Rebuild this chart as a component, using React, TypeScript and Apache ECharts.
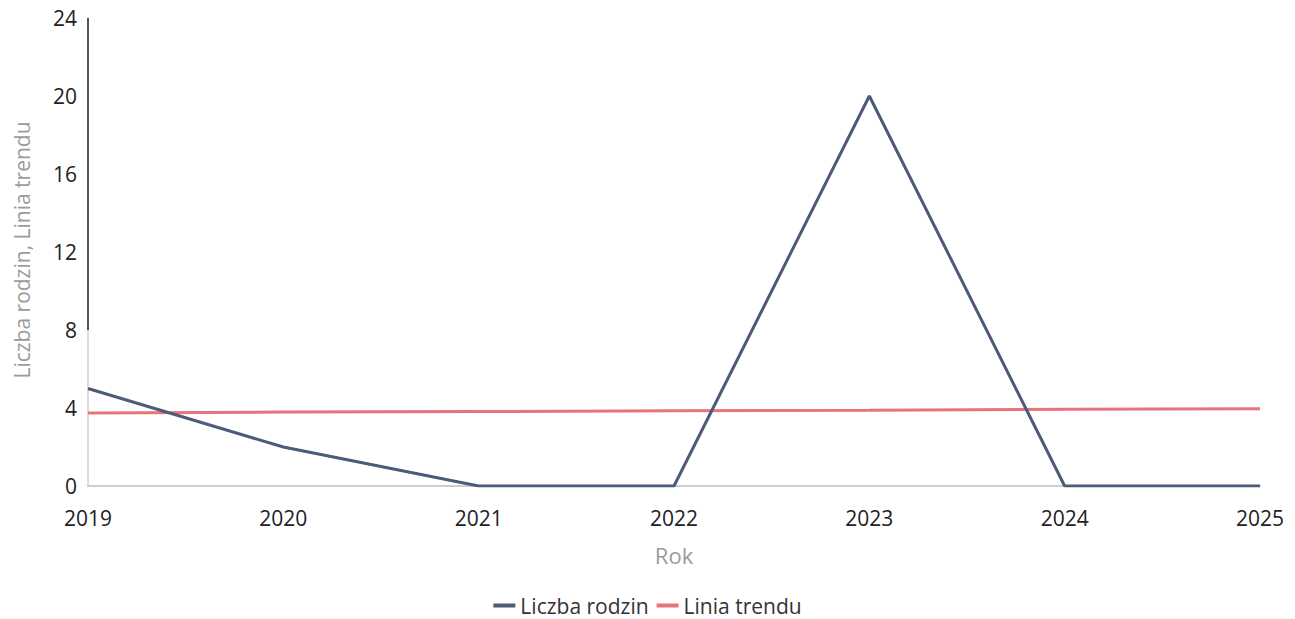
import React, { useEffect, useRef } from "react";
import * as echarts from "echarts";

const years = ["2019", "2020", "2021", "2022", "2023", "2024", "2025"];
const families = [5, 2, 0, 0, 20, 0, 0];
const trend = [3.75, 3.79, 3.82, 3.86, 3.89, 3.93, 3.96];
const yTicks = { min: 0, max: 24, interval: 4 };
const yName = "Liczba rodzin, Linia trendu";

export default function App() {
  const ref = useRef<HTMLDivElement>(null);
  useEffect(() => {
    const chart = echarts.init(ref.current!, null, { renderer: "svg" });
    const font = "'Open Sans', sans-serif";
    chart.setOption({
      animation: false,
      textStyle: { fontFamily: font },
      grid: { left: 88, right: 35, top: 18, bottom: 133 },
      graphic: [
        {
          type: "text",
          x: 22,
          y: 250,
          rotation: Math.PI / 2,
          style: {
            text: yName,
            fontFamily: font,
            fontSize: 21,
            fill: "#9a9aa0",
            align: "center",
            verticalAlign: "middle",
          },
        },
      ],
      legend: {
        top: 590,
        left: "center",
        itemWidth: 22,
        itemHeight: 4,
        itemGap: 8,
        icon: "rect",
        textStyle: { fontFamily: font, fontSize: 21, color: "#333" },
        data: ["Liczba rodzin", "Linia trendu"],
      },
      xAxis: {
        type: "category",
        data: years,
        boundaryGap: false,
        name: "Rok",
        nameLocation: "middle",
        nameGap: 58,
        nameTextStyle: { fontFamily: font, fontSize: 22, color: "#9a9aa0" },
        axisLine: { lineStyle: { color: "#cfcfcf", width: 2 } },
        axisTick: { show: false },
        axisLabel: { fontFamily: font, fontSize: 21, color: "#222", margin: 21 },
        splitLine: { show: false },
      },
      yAxis: {
        type: "value",
        min: yTicks.min,
        max: yTicks.max,
        interval: yTicks.interval,
        axisLine: { show: true, lineStyle: { color: "#dcdcdc", width: 2 } },
        axisTick: { show: false },
        axisLabel: { fontFamily: font, fontSize: 21, color: "#222", margin: 11 },
        splitLine: { show: false },
      },
      series: [
        {
          name: "Liczba rodzin",
          type: "line",
          data: families,
          symbol: "none",
          lineStyle: { color: "#4b5b79", width: 3 },
          itemStyle: { color: "#4b5b79" },
          z: 3,
          markLine: {
            silent: true,
            symbol: "none",
            label: { show: false },
            lineStyle: { color: "#555", width: 2, type: "solid" },
            data: [[{ coord: [0, 8] }, { coord: [0, 24] }]],
          },
        },
        {
          name: "Linia trendu",
          type: "line",
          data: trend,
          symbol: "none",
          lineStyle: { color: "#e8737b", width: 3 },
          itemStyle: { color: "#e8737b" },
          z: 2,
        },
      ],
    });
    return () => chart.dispose();
  }, []);
  return (
    <div
      ref={ref}
      style={{ position: "absolute", left: 0, top: 0, width: 1295, height: 619 }}
    />
  );
}
